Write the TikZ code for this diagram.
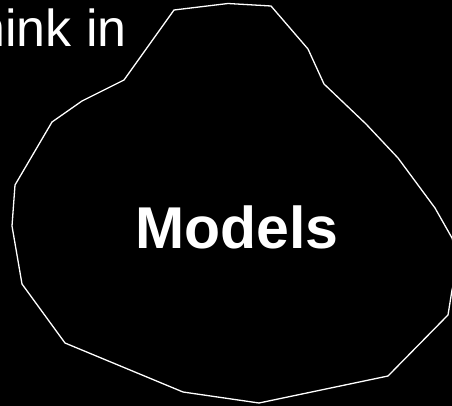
\documentclass[tikz,border=0pt]{standalone}
\usepackage{fontspec}
\setmainfont{Liberation Sans}
\tikzset{
  blob/.style={draw=white, line width=1.3pt, line join=miter},
  thinktext/.style={text=white, inner sep=0pt, font=\fontsize{52}{60}\selectfont},
  modeltext/.style={text=white, inner sep=0pt, font=\fontsize{59}{66}\selectfont\bfseries}
}
\begin{document}
\begin{tikzpicture}[x=1pt,y=-1pt]
\fill[black] (0,0) rectangle (452,406);
\useasboundingbox (0,0) rectangle (452,406);
\clip (0,0) rectangle (452,406);
\draw[blob] (174,10) -- (228,3.5) -- (271,6) -- (308,49) -- (324,84) -- (366,124)
  -- (398,158) -- (435,208) -- (452,238) -- (459,262) -- (452,290) -- (448,315)
  -- (388,376) -- (259,403) -- (183,392) -- (65,343) -- (22,284) -- (12,226)
  -- (15,185) -- (52,122) -- (82,101) -- (124,80) -- cycle;
\node[thinktext, anchor=base east] (think) at (127,47) {hink in};
\node[modeltext, anchor=base] (models) at (237,248) {Models};
\end{tikzpicture}
\end{document}
